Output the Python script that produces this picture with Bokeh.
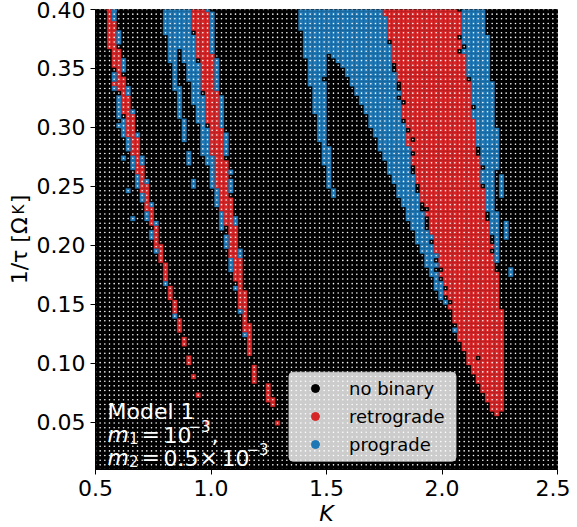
import numpy as np
from bokeh.plotting import figure
from bokeh.models import ColumnDataSource, FixedTicker, Label, Legend, LegendItem, BoxAnnotation, NumeralTickFormatter, Range1d, CDSView, IndexFilter, LinearAxis
from bokeh.embed import file_html
from bokeh.resources import INLINE

K_values = list(np.linspace(0.5, 2.5, 100))
tau_values = list(np.linspace(0.40, 0.01, 100))
x_ticks = [0.5, 1.0, 1.5, 2.0, 2.5]
y_ticks = [0.05, 0.10, 0.15, 0.20, 0.25, 0.30, 0.35, 0.40]

# runs: (first row, last row, first K index, last K index)
retrograde_band1 = [(0,2,3,3),(3,8,3,4),(9,12,4,5),(13,14,5,5),(15,15,5,6),(16,16,4,6),(17,17,5,6),(18,18,6,6),
    (19,22,6,7),(23,27,7,8),(28,31,8,9),(32,33,9,9),(34,35,9,10),(36,37,10,10),(38,39,10,11),(40,42,11,11),
    (43,43,11,12),(44,46,12,12),(47,50,13,13),(51,51,13,14),(52,54,14,14),(55,58,15,15),(60,62,16,16),
    (63,65,17,17),(67,69,18,18),(71,72,19,19),(75,76,20,20),(79,79,21,21),(83,83,22,22),(89,89,24,24)]
prograde_band1 = [(0,2,4,4),(5,7,5,5),(11,13,6,6),(14,15,4,4),(17,17,4,4),(17,18,7,7),(19,23,5,5),(22,23,8,8),
    (24,27,6,6),(25,25,5,5),(27,28,9,9),(28,30,7,7),(32,32,6,6),(32,34,8,8),(32,33,10,10),(36,38,9,9),
    (37,37,11,11),(39,39,7,7),(40,41,10,10),(42,42,12,12),(44,45,11,11),(45,45,8,8),(46,46,13,13),
    (48,49,12,12),(52,52,13,13),(59,59,15,15),(66,66,17,17)]

retrograde_band2 = [(0,0,21,23),(1,4,21,24),(5,9,22,24),(10,10,22,25),(11,17,23,25),(18,24,24,26),(25,25,25,26),
    (26,31,25,27),(32,32,26,27),(33,38,26,28),(39,40,27,28),(41,43,27,29),(44,46,28,29),(47,53,29,30),
    (54,58,30,31),(59,60,31,31),(61,64,31,32),(65,67,32,32),(68,69,32,33),(70,74,33,33),(77,80,34,34),
    (81,83,37,37),(84,84,37,38),(85,85,38,38),(89,89,39,39)]
prograde_band2 = [(0,5,15,20),(0,0,24,24),(1,9,25,25),(6,8,16,21),(9,11,16,17),(9,11,19,21),(12,15,17,17),
    (12,15,20,22),(16,16,17,17),(16,18,21,22),(17,17,17,18),(18,23,18,18),(19,20,21,23),(21,23,22,23),
    (24,24,22,23),(24,28,19,19),(25,25,23,23),(26,31,23,24),(31,33,20,20),(32,33,24,25),(34,38,25,25),
    (37,38,21,21),(39,42,26,26),(44,47,27,27),(49,51,28,28),(54,56,29,29),(60,60,30,30),(65,65,31,31),
    (70,70,32,32),(11,17,26,26),(19,25,27,27),(27,31,28,28),(35,35,29,29),(37,39,29,29),(45,46,30,30),
    (52,53,31,31)]

retrograde_band3 = [(0,0,62,77),(1,1,62,78),(2,5,63,78),(6,6,63,77),(7,8,64,78),(9,9,64,77),(10,11,64,79),
    (12,15,65,79),(16,19,66,80),(20,20,67,80),(21,23,66,80),(24,25,67,81),(26,26,68,81),(27,27,67,81),
    (28,28,67,67),(28,28,69,81),(29,29,67,81),(30,30,68,81),(31,31,69,81),(32,33,68,82),(34,37,69,82),
    (38,38,70,82),(39,41,70,83),(42,42,71,83),(43,43,72,83),(44,44,71,83),(45,45,72,83),(46,48,72,84),
    (49,50,73,84),(51,51,73,85),(52,52,73,84),(53,55,74,85),(56,56,75,85),(57,57,74,86),(58,59,75,86),
    (60,60,76,86),(61,61,75,86),(62,62,76,86),(63,63,77,86),(64,64,76,86),(65,67,77,87),(68,71,78,87),
    (72,73,79,87),(74,74,80,87),(75,75,80,81),(75,75,83,87),(76,76,80,87),(77,78,81,87),(79,80,82,87),
    (81,82,83,87),(83,84,84,87),(85,86,85,87),(87,87,86,86)]
prograde_band3 = [(0,1,44,61),(2,4,44,62),(5,7,45,62),(8,9,45,63),(10,10,45,49),(10,10,51,63),(11,11,46,49),
    (11,11,52,63),(12,12,46,49),(12,12,53,63),(13,13,46,49),(13,13,54,63),(14,14,46,49),(14,14,54,64),
    (15,15,46,48),(15,16,55,64),(16,16,46,49),(17,17,47,49),(17,17,56,64),(18,18,47,49),(18,18,56,65),
    (19,19,47,49),(19,19,57,64),(20,20,47,49),(20,20,57,65),(21,22,47,49),(21,22,58,65),(23,24,48,49),
    (23,24,59,65),(25,25,48,49),(25,25,59,66),(26,27,48,49),(26,27,60,66),(28,28,48,49),(28,29,61,66),
    (29,29,49,49),(30,30,49,50),(30,30,61,67),(31,32,49,50),(31,32,62,67),(33,33,49,50),(33,33,63,67),
    (34,35,50,50),(34,35,63,67),(36,37,50,50),(36,37,64,68),(38,38,50,50),(38,39,65,68),(39,40,51,51),
    (40,40,65,69),(41,42,66,69),(43,43,67,69),(44,45,67,70),(46,47,68,70),(48,48,69,71),(49,49,69,72),
    (50,50,69,71),(51,52,70,72),(53,53,71,73),(54,54,71,72),(55,55,71,73),(56,56,72,72),(57,57,72,73),
    (58,58,73,73),(59,60,73,74),(61,62,74,74),(63,63,75,75),(69,69,77,77),
    (0,5,79,83),(6,7,79,84),(8,8,80,84),(9,9,79,84),(10,14,80,84),(15,15,81,84),(16,20,81,85),(21,21,82,85),
    (22,23,81,85),(24,25,82,85),(26,29,82,86),(30,33,83,86),(34,34,84,86),(35,37,83,85),(36,40,87,87),
    (38,43,84,85),(44,48,85,86),(49,54,86,86),(46,49,88,88),(56,57,89,89)]

model_lines = ["Model 1"]
legend_labels = ["no binary", "retrograde", "prograde"]
legend_colors = ["black", "#d62728", "#1f77b4"]


def expand(*groups):
    cells = set()
    for runs in groups:
        for r0, r1, c0, c1 in runs:
            for r in range(r0, r1 + 1):
                for c in range(c0, c1 + 1):
                    cells.add((r, c))
    return cells


retro = expand(retrograde_band1, retrograde_band2, retrograde_band3)
pro = expand(prograde_band1, prograde_band2, prograde_band3) - retro
none = {(r, c) for r in range(len(tau_values)) for c in range(len(K_values))} - retro - pro


def src(cells):
    cells = sorted(cells)
    return ColumnDataSource(dict(K=[K_values[c] for r, c in cells], tau=[tau_values[r] for r, c in cells]))


FL, FT, FW, FH = 95, 9, 462, 460


def kx(px):
    return 0.5 + (px - FL) / FW * 2.0


def ty(py):
    return 0.40 - (py - FT) / FH * 0.39


p = figure(width=570, height=522, output_backend="svg", toolbar_location=None,
           x_range=Range1d(0.5, 2.5), y_range=Range1d(0.01, 0.40),
           frame_width=FW, frame_height=FH,
           min_border_left=FL, min_border_top=FT, min_border_right=13, min_border_bottom=53,
           background_fill_color="black", border_fill_color="white")
p.grid.visible = False
p.outline_line_color = "black"
p.outline_line_width = 1

dk, dt = 2.0 / 99, 0.39 / 99
sources = [src(none), src(retro), src(pro)]
for s, col in zip(sources, legend_colors):
    p.rect("K", "tau", width=dk, height=dt, source=s, fill_color=col, line_color=col, line_width=0.3)
items = []
for lab, col, s in zip(legend_labels, legend_colors, sources):
    r = p.scatter("K", "tau", source=s, view=CDSView(filter=IndexFilter([0])), marker="circle", size=5.5,
                  fill_color=col, line_color=col)
    items.append(LegendItem(label=lab, renderers=[r]))
all_cells = {(r, c) for r in range(len(tau_values)) for c in range(len(K_values))}
p.scatter("K", "tau", source=src(all_cells), size=1.6, fill_color="white", line_color=None, marker="circle")

for ax in (p.xaxis[0], p.yaxis[0]):
    ax.major_label_text_font = "DejaVu Sans"
    ax.major_label_text_font_size = "22px"
    ax.major_label_text_color = "black"
    ax.minor_tick_line_color = None
    ax.major_tick_out = 5
    ax.major_tick_in = 0
    ax.major_tick_line_color = "black"
    ax.axis_line_color = "black"
    ax.axis_label_text_font = "DejaVu Sans"
    ax.axis_label_text_font_size = "22px"
    ax.axis_label_text_color = "black"
p.xaxis[0].ticker = FixedTicker(ticks=x_ticks)
p.yaxis[0].ticker = FixedTicker(ticks=y_ticks)
p.xaxis[0].formatter = NumeralTickFormatter(format="0.0")
p.yaxis[0].formatter = NumeralTickFormatter(format="0.00")
p.xaxis[0].major_label_standoff = 5
p.yaxis[0].major_label_standoff = 5
p.xaxis[0].axis_label = "K"
p.xaxis[0].axis_label_text_font_style = "italic"
p.xaxis[0].axis_label_standoff = 2
p.yaxis[0].axis_label = "1/τ [Ω\u00a0\u00a0]"
p.yaxis[0].axis_label_text_font_style = "normal"
p.yaxis[0].axis_label_standoff = 2

# the subscript of the y-axis title, as the one tick label of an axis of its own
sub_tick = ty(209)
sub_axis = LinearAxis(ticker=FixedTicker(ticks=[sub_tick]), major_label_overrides={sub_tick: "K"},
                      major_label_orientation="vertical", major_label_standoff=-24,
                      major_label_text_font="DejaVu Sans", major_label_text_font_size="15px",
                      major_label_text_color="black", axis_line_color=None, major_tick_line_color=None,
                      minor_tick_line_color=None, major_tick_out=0, major_tick_in=0)
p.add_layout(sub_axis, "left")


def label(text, px, py, size=22, color="white", style="normal", angle=0, **kw):
    p.add_layout(Label(x=kx(px), y=ty(py), text=text, text_color=color, text_font="DejaVu Sans",
                       text_font_size=f"{size}px", text_font_style=style, text_baseline="alphabetic",
                       text_align="left", angle=angle, **kw))


# annotation
label(model_lines[0], 107, 410.7)
label("m", 107, 434.3, style="italic")
label("1", 128.5, 437.5, size=15)
label("=", 141, 434.3)
label("10", 163, 434.3)
label("−3", 188, 425, size=15)
label(",", 211, 434.3)
label("m", 107, 457.3, style="italic")
label("2", 128.5, 460.5, size=15)
label("=", 141, 457.3)
label("0.5", 163, 457.3)
label("×", 199, 457.3)
label("10", 221, 457.3)
label("−3", 246, 448, size=15)

# legend
p.add_layout(BoxAnnotation(left=kx(288.5), right=kx(455.5), top=ty(371.7), bottom=ty(460.7),
                           fill_color="white", fill_alpha=0.8, line_color="#cccccc", line_alpha=0.8,
                           border_radius=4))
leg = Legend(items=items, location=(210, 11), orientation="vertical", padding=0, margin=0, spacing=0,
             glyph_width=20, glyph_height=28, label_height=28, label_standoff=24,
             label_text_font="DejaVu Sans", label_text_font_size="18px", label_text_color="black",
             background_fill_alpha=0, border_line_color=None)
p.add_layout(leg)

open("out.html", "w").write(file_html(p, INLINE))
